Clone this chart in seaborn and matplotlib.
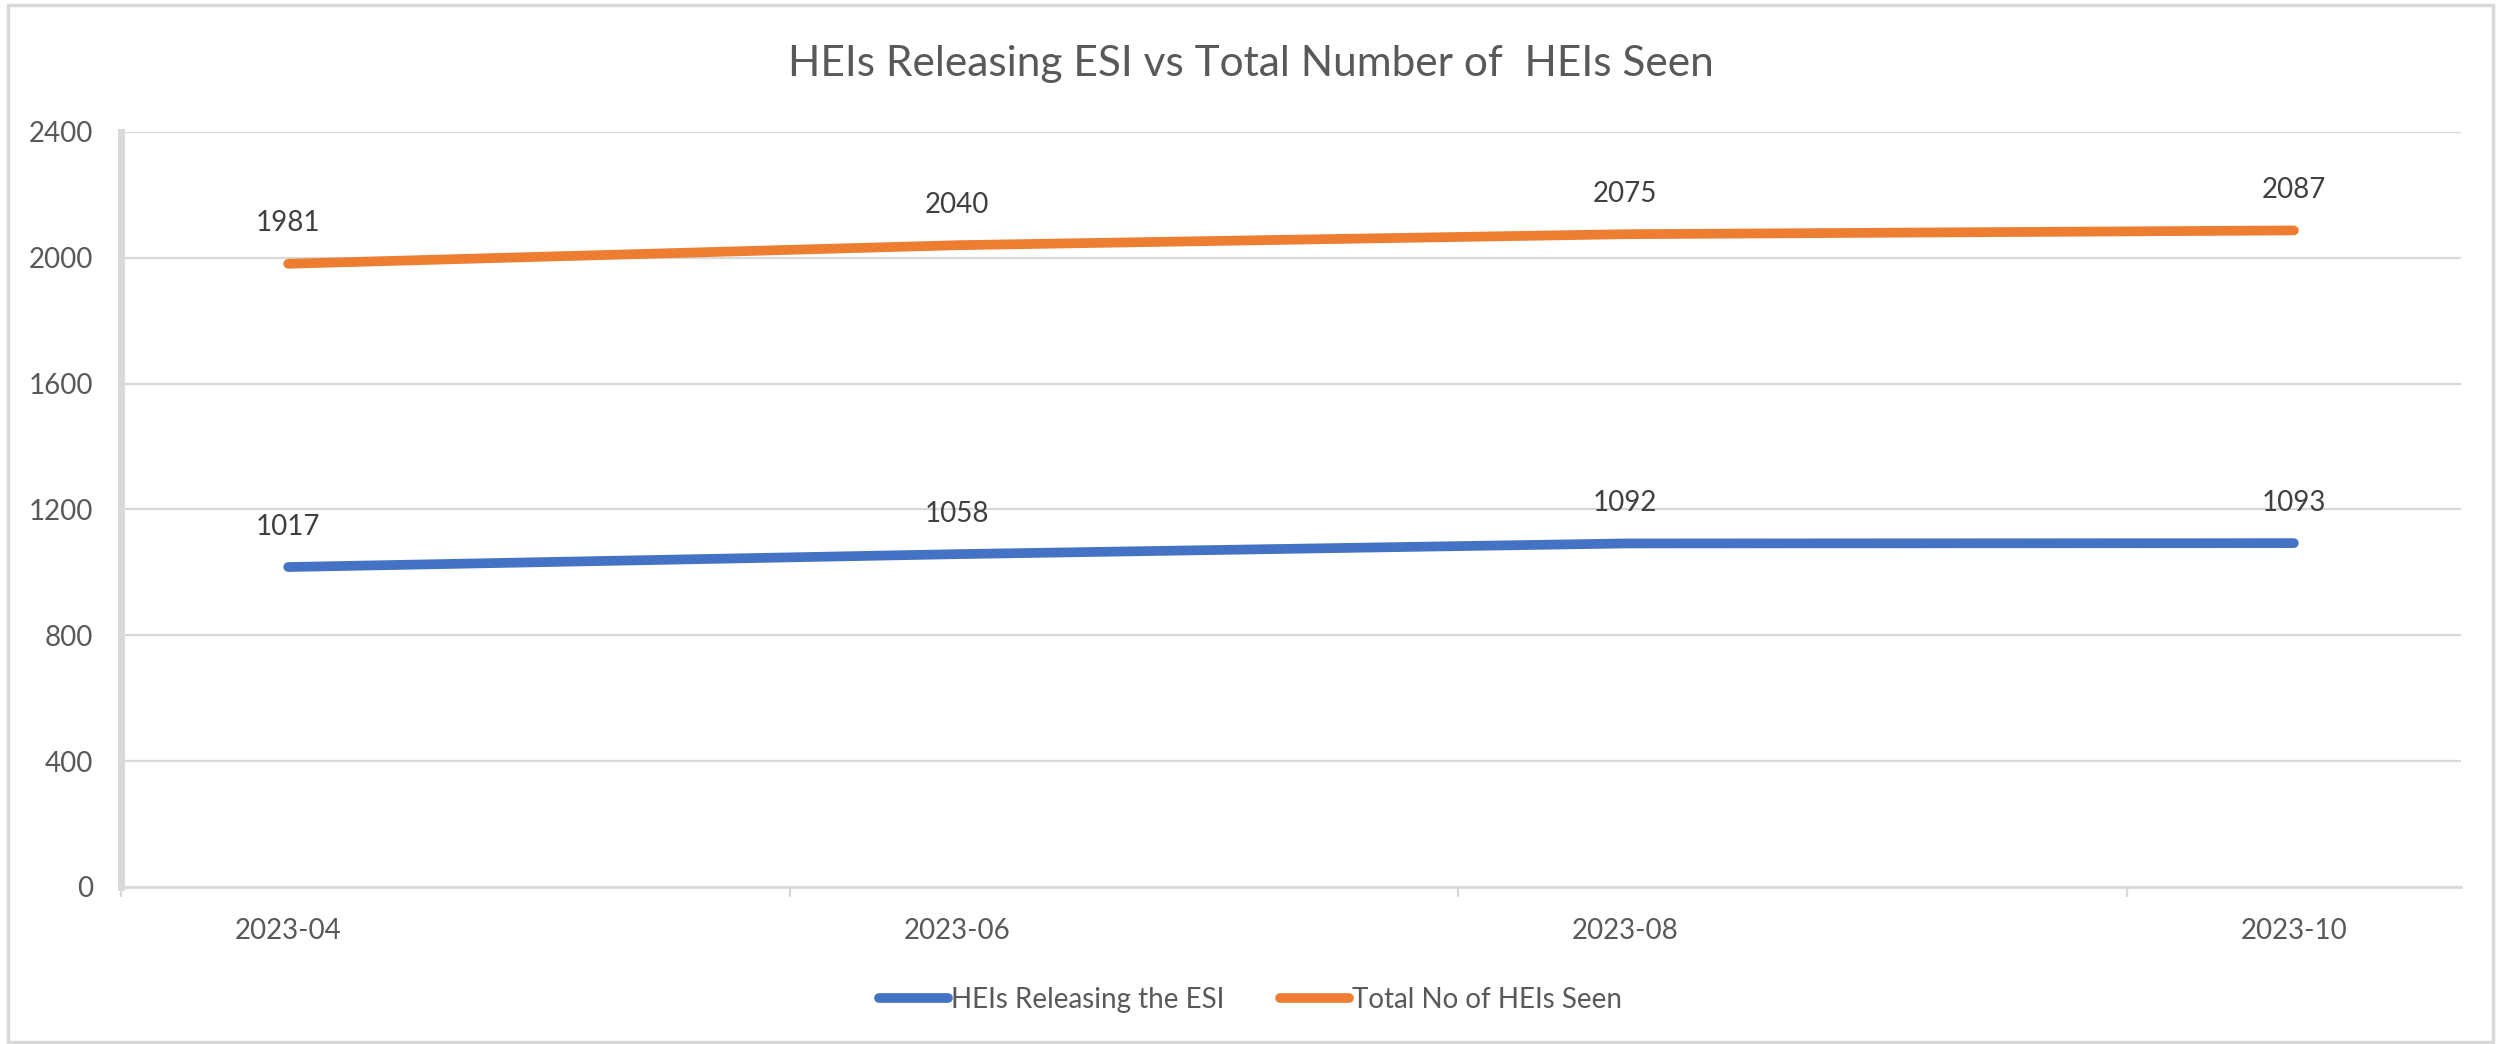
import matplotlib
matplotlib.use("Agg")
import matplotlib.pyplot as plt
import seaborn as sns
import pandas as pd
from matplotlib.patches import Rectangle
from matplotlib.lines import Line2D

months = ["2023-04", "2023-06", "2023-08", "2023-10"]
esi_released = [1017, 1058, 1092, 1093]
total_seen = [1981, 2040, 2075, 2087]
series_names = ["HEIs Releasing the ESI", "Total No of HEIs Seen"]
series_colors = ["#4472C4", "#ED7D31"]
y_ticks = [0, 400, 800, 1200, 1600, 2000, 2400]
title = "HEIs Releasing ESI vs Total Number of  HEIs Seen"

sns.set_theme(style="white")
plt.rcParams['font.family'] = ['Lato', 'DejaVu Sans']

# month index along a monthly date axis
month_idx = [int(m[:4]) * 12 + int(m[5:]) for m in months]
month_idx = [p - month_idx[0] for p in month_idx]

df = pd.DataFrame({
    "month": month_idx * 2,
    "value": esi_released + total_seen,
    "series": [series_names[0]] * len(months) + [series_names[1]] * len(months),
})

fig = plt.figure(figsize=(25.01, 10.44), dpi=100)
ax = fig.add_axes([0.0484, 0.1504, 0.984 - 0.0484, 0.8736 - 0.1504])

sns.lineplot(data=df, x="month", y="value", hue="series", palette=series_colors,
             linewidth=7, ax=ax, legend=False, solid_capstyle="round")

ax.set_xlim(-0.5, month_idx[-1] + 0.5)
ax.set_ylim(y_ticks[0], y_ticks[-1])
ax.set_yticks(y_ticks)
ax.set_yticklabels([str(t) for t in y_ticks])
ax.set_xticks(month_idx)
ax.set_xticklabels(months)
ax.set_xticks([p - 0.5 for p in month_idx], minor=True)
ax.set_xlabel("")
ax.set_ylabel("")

ax.grid(axis="y", color="#D9D9D9", linewidth=1.6)
ax.grid(axis="x", visible=False)
ax.set_axisbelow(True)
for s in ["top", "right"]:
    ax.spines[s].set_visible(False)
ax.spines["left"].set_color("#D9D9D9")
ax.spines["left"].set_linewidth(5)
ax.spines["bottom"].set_color("#D9D9D9")
ax.spines["bottom"].set_linewidth(2)

ax.tick_params(axis="y", length=0, pad=20, labelsize=20, labelcolor="#595959")
ax.tick_params(axis="x", which="major", length=0, pad=22, labelsize=20, labelcolor="#595959")
ax.tick_params(axis="x", which="minor", length=7, width=1.6, color="#D9D9D9", bottom=True)

for vals in (esi_released, total_seen):
    for x, v in zip(month_idx, vals):
        ax.annotate(str(v), (x, v), xytext=(0, 29), textcoords="offset points",
                    ha="center", va="center", fontsize=20, color="#404040")

fig.text(0.5, 1 - 64 / 1044, title, ha="center", va="center", fontsize=30.5, color="#595959")

handles = [Line2D([0], [0], color=c, linewidth=7, solid_capstyle="round") for c in series_colors]
fig.legend(handles, series_names, loc="center", bbox_to_anchor=(0.5, 0.042), ncol=2,
           frameon=False, fontsize=20, handlelength=2.5, handletextpad=0.1,
           columnspacing=2.0, labelcolor="#595959")

fig.add_artist(Rectangle((0.003, 0.002), 0.994, 0.993, transform=fig.transFigure,
                         fill=False, edgecolor="#D9D9D9", linewidth=2.5))

fig.savefig("out.png", dpi=100)
